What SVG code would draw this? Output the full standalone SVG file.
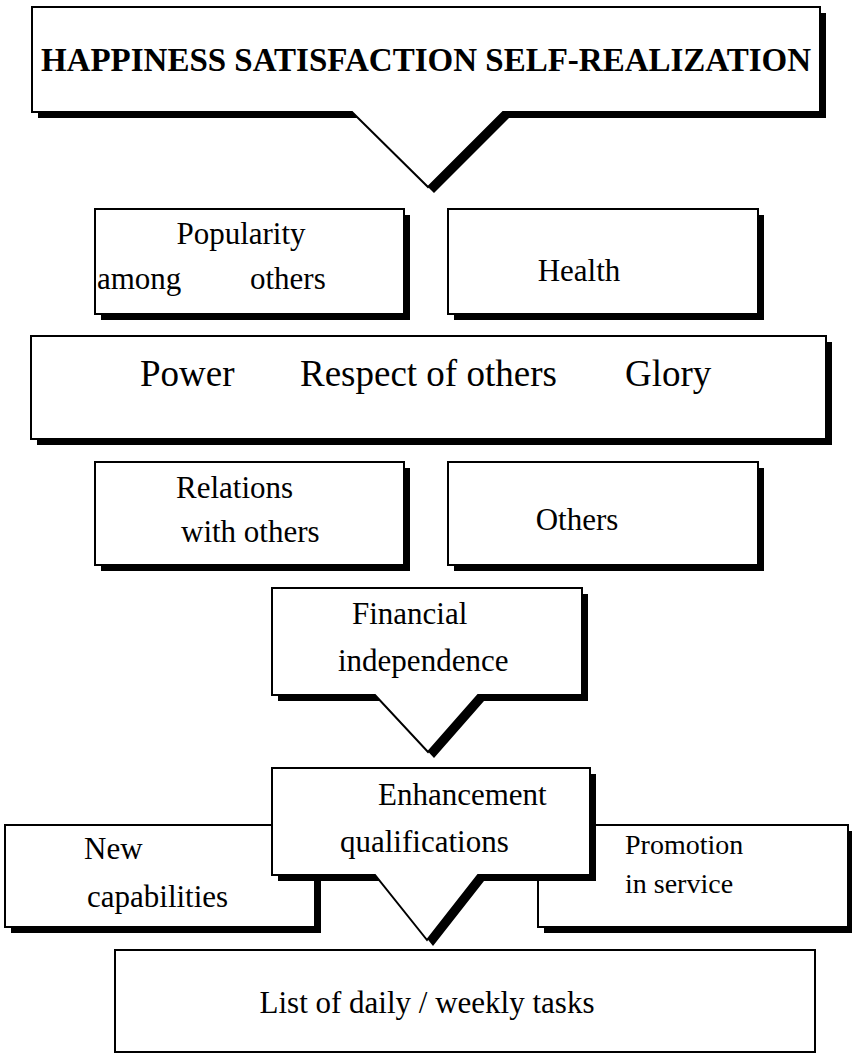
<svg xmlns="http://www.w3.org/2000/svg" width="852" height="1056" viewBox="0 0 852 1056">
<style>
.box{fill:#fff;stroke:#000;stroke-width:2}
.sh{fill:#000}
.t,.big,.hd,.sm{font-family:"Liberation Serif","Times New Roman",serif;fill:#000}
.t{font-size:31px}
.sm{font-size:28px}
.big{font-size:37px}
.hd{font-size:33px;font-weight:bold}
</style>
<rect width="852" height="1056" fill="#fff"/>
<g id="connectors"></g>
<g id="top">
<path class="sh" d="M38,13 H826 V118 H509 L434,193 L358,118 H38 Z"/>
<path class="box" d="M32,7 H820 V112 H503 L428,187 L352,112 H32 Z"/>
<text class="hd" x="426" y="71" text-anchor="middle">HAPPINESS SATISFACTION SELF-REALIZATION</text>
</g>
<g id="popularity">
<rect class="sh" x="101" y="215" width="309" height="105"/>
<rect class="box" x="95" y="209" width="309" height="105"/>
<text class="t" x="241" y="244" text-anchor="middle">Popularity</text>
<text class="t" x="97" y="289">among</text>
<text class="t" x="250" y="289">others</text>
</g>
<g id="health">
<rect class="sh" x="454" y="215" width="310" height="105"/>
<rect class="box" x="448" y="209" width="310" height="105"/>
<text class="t" x="579" y="281" text-anchor="middle">Health</text>
</g>
<g id="power">
<rect class="sh" x="37" y="342" width="795" height="103"/>
<rect class="box" x="31" y="336" width="795" height="103"/>
<text class="big" x="140" y="386">Power</text>
<text class="big" x="300" y="386">Respect of others</text>
<text class="big" x="625" y="386">Glory</text>
</g>
<g id="relations">
<rect class="sh" x="101" y="468" width="309" height="103"/>
<rect class="box" x="95" y="462" width="309" height="103"/>
<text class="t" x="176" y="498">Relations</text>
<text class="t" x="181" y="542">with others</text>
</g>
<g id="others">
<rect class="sh" x="454" y="468" width="310" height="103"/>
<rect class="box" x="448" y="462" width="310" height="103"/>
<text class="t" x="577" y="530" text-anchor="middle">Others</text>
</g>
<g id="financial">
<path class="sh" d="M278,594 H588 V701 H484 L434,758 L381,701 H278 Z"/>
<path class="box" d="M272,588 H582 V695 H478 L428,752 L375,695 H272 Z"/>
<text class="t" x="352" y="624">Financial</text>
<text class="t" x="338" y="671">independence</text>
</g>
<g id="new">
<rect class="sh" x="11" y="831" width="310" height="102"/>
<rect class="box" x="5" y="825" width="310" height="102"/>
<text class="t" x="84" y="859">New</text>
<text class="t" x="87" y="907">capabilities</text>
</g>
<g id="promotion">
<rect class="sh" x="544" y="831" width="310" height="102"/>
<rect class="box" x="538" y="825" width="310" height="102"/>
<text class="sm" x="625" y="854">Promotion</text>
<text class="sm" x="625" y="893">in service</text>
</g>
<g id="enhancement">
<path class="sh" d="M278,774 H596 V881 H484 L433,946 L381,881 H278 Z"/>
<path class="box" d="M272,768 H590 V875 H478 L427,940 L375,875 H272 Z"/>
<text class="t" x="378" y="805">Enhancement</text>
<text class="t" x="340" y="852">qualifications</text>
</g>
<g id="tasks">
<rect class="box" x="115" y="950" width="700" height="102"/>
<text class="t" x="427" y="1013" text-anchor="middle">List of daily / weekly tasks</text>
</g>
</svg>
